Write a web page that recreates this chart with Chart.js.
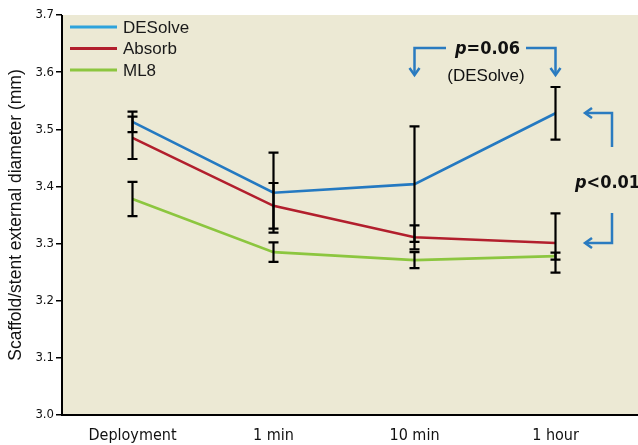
<!DOCTYPE html>
<html>
<head>
<meta charset="utf-8">
<script src="https://cdn.jsdelivr.net/npm/chart.js@4.4.0/dist/chart.umd.min.js"></script>
<style>
  html, body { margin: 0; padding: 0; background: #fff; }
  #wrap { width: 638px; height: 445px; }
</style>
</head>
<body>
<div id="wrap"><canvas id="myChart"></canvas></div>
<script>
// values
var times = ['Deployment', '1 min', '10 min', '1 hour'];
var desolve = [3.513, 3.389, 3.404, 3.528];
var absorb = [3.485, 3.366, 3.311, 3.301];
var ml8 = [3.378, 3.285, 3.271, 3.278];
var desolveSd = [0.018, 0.070, 0.101, 0.046];
var absorbSd = [0.037, 0.040, 0.021, 0.052];
var ml8Sd = [0.030, 0.017, 0.014, 0.006];
var yTicks = [3.0, 3.1, 3.2, 3.3, 3.4, 3.5, 3.6, 3.7];

var narrow = "'Liberation Sans Narrow', 'DejaVu Sans Condensed', sans-serif";
var sans = "'Liberation Sans', Arial, sans-serif";
var arrowBlue = '#2a7bc0';

var bgPlugin = {
    id: 'bg',
    beforeDraw: function(chart) {
        var c = chart.ctx, a = chart.chartArea;
        c.save();
        c.fillStyle = '#ece9d4';
        c.fillRect(a.left, a.top, chart.width - a.left, a.bottom - a.top);
        c.restore();
    },
    afterDraw: function(chart) {
        var c = chart.ctx, a = chart.chartArea;
        c.save();
        c.strokeStyle = '#000';
        c.lineWidth = 2;
        c.beginPath();
        c.moveTo(a.left, a.top);
        c.lineTo(a.left, a.bottom);
        c.lineTo(chart.width, a.bottom);
        c.stroke();
        c.restore();
    }
};

var errorBars = {
    id: 'errorBars',
    afterDatasetsDraw: function(chart) {
        var c = chart.ctx, ys = chart.scales.y;
        c.save();
        c.strokeStyle = '#000';
        c.lineWidth = 2.2;
        chart.data.datasets.forEach(function(ds, di) {
            var meta = chart.getDatasetMeta(di);
            ds.data.forEach(function(v, i) {
                var x = meta.data[i].x;
                var top = ys.getPixelForValue(v + ds.sd[i]);
                var bot = ys.getPixelForValue(v - ds.sd[i]);
                c.beginPath();
                c.moveTo(x, top); c.lineTo(x, bot);
                c.moveTo(x - 5, top); c.lineTo(x + 5, top);
                c.moveTo(x - 5, bot); c.lineTo(x + 5, bot);
                c.stroke();
            });
        });
        c.restore();
    }
};

var legendBox = {
    id: 'legendBox',
    afterDraw: function(chart) {
        var c = chart.ctx;
        c.save();
        c.font = '17px ' + sans;
        c.textBaseline = 'middle';
        chart.data.datasets.forEach(function(ds, i) {
            var y = 27 + i * 21.5;
            c.strokeStyle = ds.legendColor;
            c.lineWidth = 3;
            c.beginPath();
            c.moveTo(70, y); c.lineTo(117, y);
            c.stroke();
            c.fillStyle = '#1a1a1a';
            c.fillText(ds.label, 123, y + 1);
        });
        c.restore();
    }
};

function arrowHead(c, x, y, dir) {
    // open chevron, dir: 'down' or 'left'
    c.beginPath();
    if (dir === 'down') {
        c.moveTo(x - 5, y - 7); c.lineTo(x, y); c.lineTo(x + 5, y - 7);
    } else {
        c.moveTo(x + 7, y - 5); c.lineTo(x, y); c.lineTo(x + 7, y + 5);
    }
    c.stroke();
}

var notes = {
    id: 'notes',
    afterDraw: function(chart) {
        var c = chart.ctx, xs = chart.scales.x;
        var x10 = xs.getPixelForValue(2), x60 = xs.getPixelForValue(3);
        c.save();
        c.strokeStyle = arrowBlue;
        c.lineWidth = 2.5;
        c.lineJoin = 'miter';
        // p=0.06 bracket
        c.beginPath();
        c.moveTo(446, 48); c.lineTo(x10, 48); c.lineTo(x10, 74);
        c.moveTo(526, 48); c.lineTo(x60, 48); c.lineTo(x60, 74);
        c.stroke();
        arrowHead(c, x10, 75, 'down');
        arrowHead(c, x60, 75, 'down');
        // p<0.01 bracket
        c.beginPath();
        c.moveTo(612, 147); c.lineTo(612, 113); c.lineTo(586, 113);
        c.moveTo(612, 213); c.lineTo(612, 243); c.lineTo(586, 243);
        c.stroke();
        arrowHead(c, 585, 113, 'left');
        arrowHead(c, 585, 243, 'left');

        c.fillStyle = '#111';
        c.textBaseline = 'alphabetic';
        c.font = 'italic bold 18px ' + narrow;
        c.fillText('p', 455, 54);
        var pw = c.measureText('p').width;
        c.font = 'bold 18px ' + narrow;
        c.fillText('=0.06', 455 + pw, 54);
        c.font = '17px ' + sans;
        c.textAlign = 'center';
        c.fillText('(DESolve)', 486, 81);
        c.textAlign = 'left';
        c.font = 'italic bold 18px ' + narrow;
        c.fillText('p', 575, 188);
        pw = c.measureText('p').width;
        c.font = 'bold 18px ' + narrow;
        c.fillText('<0.01', 575 + pw, 188);
        c.restore();
    }
};

var chartdata = {
    labels: times,
    datasets: [
        { label: 'DESolve', data: desolve, sd: desolveSd, borderColor: '#2479c1', legendColor: '#2ea3dc' },
        { label: 'Absorb', data: absorb, sd: absorbSd, borderColor: '#b21f2d', legendColor: '#b21f2d' },
        { label: 'ML8', data: ml8, sd: ml8Sd, borderColor: '#8cc63f', legendColor: '#8cc63f' }
    ]
};

new Chart('myChart', {
    type: 'line',
    data: chartdata,
    options: {
        responsive: true,
        maintainAspectRatio: false,
        animation: false,
        layout: { padding: { top: 15, right: 12, left: 0, bottom: 0 } },
        elements: {
            line: { borderWidth: 2.6, tension: 0 },
            point: { radius: 0 }
        },
        plugins: {
            legend: { display: false },
            tooltip: { enabled: false }
        },
        scales: {
            x: {
                offset: true,
                grid: { display: false, offset: true },
                border: { display: false },
                ticks: { color: '#111', font: { family: narrow, size: 16 }, padding: 3 },
                afterFit: function(s) { s.height = 30; }
            },
            y: {
                min: 3.0,
                max: 3.7,
                afterBuildTicks: function(s) { s.ticks = yTicks.map(function(v) { return { value: v }; }); },
                grid: { drawOnChartArea: false, color: '#000', lineWidth: 1.5, tickLength: 6 },
                border: { display: false },
                ticks: {
                    color: '#111',
                    padding: 2,
                    font: { family: narrow, size: 13 },
                    callback: function(v) { return v.toFixed(1); }
                },
                title: {
                    display: true,
                    text: 'Scaffold/stent external diameter (mm)',
                    color: '#111',
                    font: { family: sans, size: 17.5 },
                    padding: { top: 6, bottom: 0 }
                },
                afterFit: function(s) { s.width = 62; }
            }
        }
    },
    plugins: [bgPlugin, errorBars, legendBox, notes]
});
</script>
</body>
</html>
